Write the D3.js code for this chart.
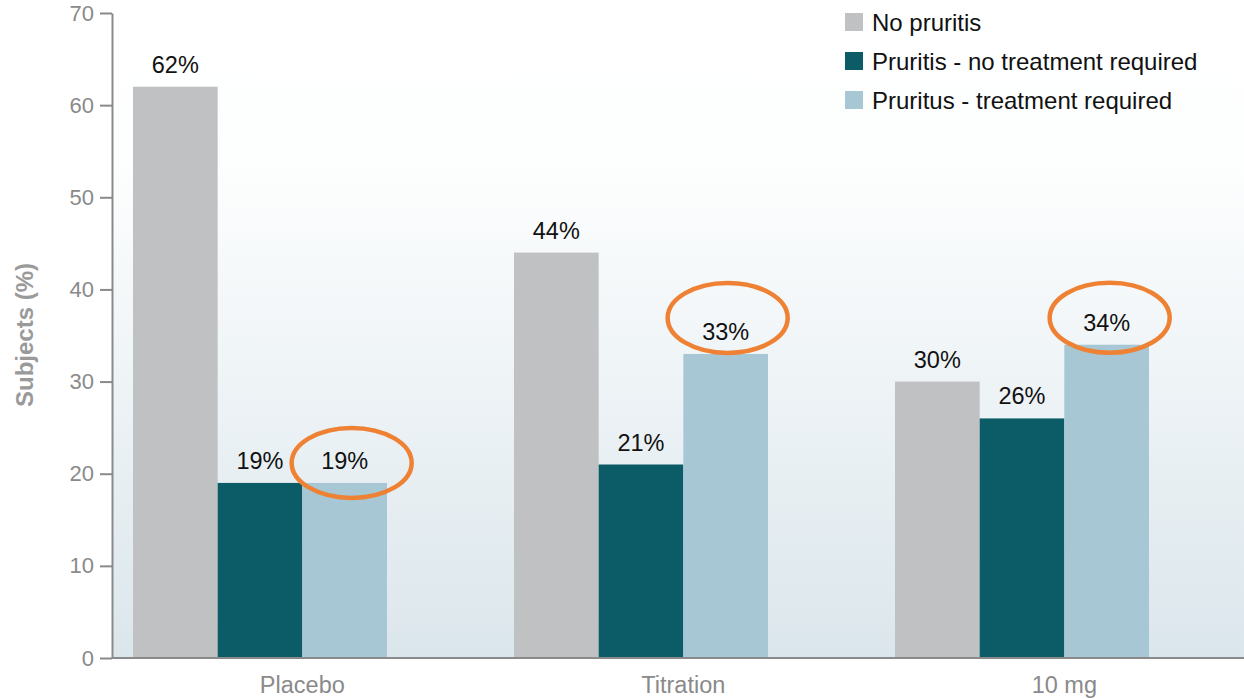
<!DOCTYPE html>
<html>
<head>
<meta charset="utf-8">
<script src="https://cdn.jsdelivr.net/npm/d3@7/dist/d3.min.js"></script>
<style>
  html, body { margin: 0; padding: 0; background: #ffffff; }
  svg { display: block; font-family: "Liberation Sans", Arial, sans-serif; }
</style>
</head>
<body>
<svg id="chart" width="1244" height="699"></svg>
<script>
// Share of subjects by pruritus outcome, per treatment arm
const groups = ["Placebo", "Titration", "10 mg"];
const seriesNames = ["No pruritis", "Pruritis - no treatment required", "Pruritus - treatment required"];
const noPruritis = [62, 44, 30];
const pruritisNoTreatment = [19, 21, 26];
const pruritusTreatment = [19, 33, 34];
const yTicks = [0, 10, 20, 30, 40, 50, 60, 70];
// Series whose value label gets an orange callout ring in every arm
const calloutSeries = "Pruritus - treatment required";

const seriesValues = [noPruritis, pruritisNoTreatment, pruritusTreatment];
const colors = ["#c0c1c3", "#0b5c66", "#a6c7d3"];

const W = 1244, H = 699;
const axisX = 112, plotTop = 13, plotBottom = 658;

const svg = d3.select("#chart");

// Plot-area background: white fading to a pale blue-grey at the baseline
const defs = svg.append("defs");
const grad = defs.append("linearGradient")
  .attr("id", "bg").attr("x1", 0).attr("y1", 0).attr("x2", 0).attr("y2", 1);
grad.append("stop").attr("offset", "0%").attr("stop-color", "#ffffff");
grad.append("stop").attr("offset", "25%").attr("stop-color", "#fdfefe");
grad.append("stop").attr("offset", "100%").attr("stop-color", "#dbe6ec");
svg.append("rect")
  .attr("x", axisX).attr("y", 0)
  .attr("width", W - axisX).attr("height", plotBottom)
  .attr("fill", "url(#bg)");

const y = d3.scaleLinear().domain([0, 70]).range([plotBottom, plotTop]);
const x0 = d3.scaleBand().domain(groups)
  .range([69.5, 1212.5]).paddingInner(1 / 3).paddingOuter(1 / 6);
const x1 = d3.scaleBand().domain(seriesNames).range([0, x0.bandwidth()]);

// Bars
const rows = groups.map((g, gi) => ({
  group: g,
  items: seriesNames.map((s, si) => ({ series: s, value: seriesValues[si][gi], color: colors[si] }))
}));

const gGroups = svg.append("g").selectAll("g").data(rows).join("g")
  .attr("transform", d => `translate(${x0(d.group)},0)`);

gGroups.selectAll("rect").data(d => d.items).join("rect")
  .attr("x", d => x1(d.series))
  .attr("y", d => y(d.value))
  .attr("width", x1.bandwidth())
  .attr("height", d => y(0) - y(d.value))
  .attr("fill", d => d.color);

// Value labels
gGroups.selectAll("text.val").data(d => d.items).join("text")
  .attr("class", "val")
  .attr("x", d => x1(d.series) + x1.bandwidth() / 2)
  .attr("y", d => y(d.value) - 14)
  .attr("text-anchor", "middle")
  .attr("font-size", 23.5)
  .attr("fill", "#111111")
  .text(d => d.value + "%");

// Orange callout rings around the "treatment required" labels
const ringNudge = { "Placebo": [7, 1], "Titration": [2, -15], "10 mg": [3, -6] };
gGroups.each(function (d) {
  const it = d.items.find(i => i.series === calloutSeries);
  const cx = x1(it.series) + x1.bandwidth() / 2 + ringNudge[d.group][0];
  const cy = y(it.value) - 21 + ringNudge[d.group][1];
  d3.select(this).append("ellipse")
    .attr("cx", cx).attr("cy", cy)
    .attr("rx", 60).attr("ry", 35)
    .attr("fill", "none")
    .attr("stroke", "#ee8133")
    .attr("stroke-width", 4.5);
});

// Y axis
const yAxis = svg.append("g")
  .attr("transform", `translate(${axisX},0)`)
  .call(d3.axisLeft(y).tickValues(yTicks).tickSize(12).tickPadding(6).tickSizeOuter(0));
yAxis.select(".domain").attr("stroke", "#8a8a8a").attr("stroke-width", 2);
yAxis.selectAll(".tick line").attr("stroke", "#8a8a8a").attr("stroke-width", 2);
yAxis.selectAll(".tick text")
  .attr("font-size", 22)
  .attr("fill", "#8a8a8a")
  .attr("font-family", "Liberation Sans, Arial, sans-serif");

// Baseline across the plot area
svg.append("line")
  .attr("x1", axisX).attr("x2", W)
  .attr("y1", y(0)).attr("y2", y(0))
  .attr("stroke", "#8a8a8a").attr("stroke-width", 2);

// Category labels, centred under the boundary of the 2nd and 3rd bars
svg.append("g").selectAll("text").data(groups).join("text")
  .attr("x", d => x0(d) + x1(seriesNames[2]))
  .attr("y", 693)
  .attr("text-anchor", "middle")
  .attr("font-size", 23.5)
  .attr("fill", "#8a8a8a")
  .text(d => d);

// Y axis title
svg.append("text")
  .attr("transform", "translate(33,335) rotate(-90)")
  .attr("text-anchor", "middle")
  .attr("font-size", 24)
  .attr("font-weight", "bold")
  .attr("fill", "#9a9a9a")
  .text("Subjects (%)");

// Legend
const legend = svg.append("g").attr("transform", "translate(845,13)");
const li = legend.selectAll("g").data(seriesNames).join("g")
  .attr("transform", (d, i) => `translate(0,${i * 39})`);
li.append("rect").attr("width", 18).attr("height", 18).attr("fill", (d, i) => colors[i]);
li.append("text")
  .attr("x", 27).attr("y", 18)
  .attr("font-size", 24)
  .attr("fill", "#111111")
  .text(d => d);
</script>
</body>
</html>
